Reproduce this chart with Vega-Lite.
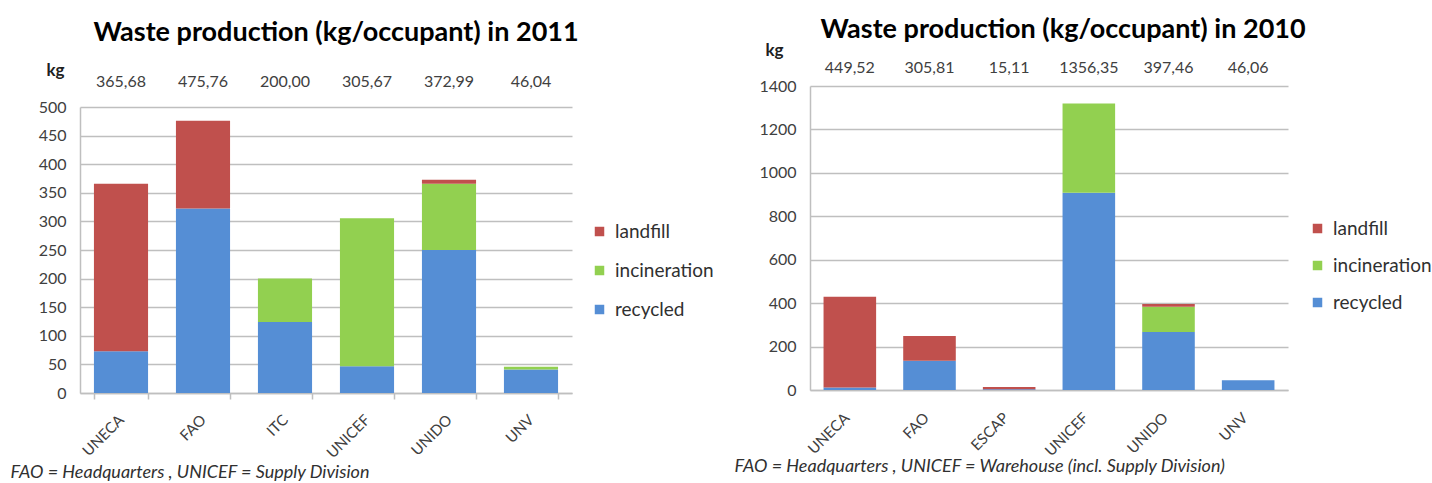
{
  "$schema": "https://vega.github.io/schema/vega-lite/v6.json",
  "padding": {"left": 10, "top": 16, "right": 5, "bottom": 5},
  "spacing": 20,
  "config": {
    "font": "Lato",
    "view": {"stroke": null},
    "axis": {"labelColor": "#404040", "labelFontSize": 16, "titleColor": "#202020"},
    "legend": {"labelColor": "#303030"}
  },
  "resolve": {"legend": {"color": "independent"}, "scale": {"color": "shared"}},
  "datasets": {
    "w2011": [
      {"office": "UNECA", "type": "recycled", "kg": 73},
      {"office": "UNECA", "type": "landfill", "kg": 292.7},
      {"office": "FAO", "type": "recycled", "kg": 322.6},
      {"office": "FAO", "type": "landfill", "kg": 153.2},
      {"office": "ITC", "type": "recycled", "kg": 124.3},
      {"office": "ITC", "type": "incineration", "kg": 75.7},
      {"office": "UNICEF", "type": "recycled", "kg": 46.7},
      {"office": "UNICEF", "type": "incineration", "kg": 259},
      {"office": "UNIDO", "type": "recycled", "kg": 250},
      {"office": "UNIDO", "type": "incineration", "kg": 115.8},
      {"office": "UNIDO", "type": "landfill", "kg": 7.2},
      {"office": "UNV", "type": "recycled", "kg": 41},
      {"office": "UNV", "type": "incineration", "kg": 5}
    ],
    "t2011": [
      {"office": "UNECA", "label": "365,68"},
      {"office": "FAO", "label": "475,76"},
      {"office": "ITC", "label": "200,00"},
      {"office": "UNICEF", "label": "305,67"},
      {"office": "UNIDO", "label": "372,99"},
      {"office": "UNV", "label": "46,04"}
    ],
    "w2010": [
      {"office": "UNECA", "type": "recycled", "kg": 11},
      {"office": "UNECA", "type": "landfill", "kg": 418.5},
      {"office": "FAO", "type": "recycled", "kg": 135},
      {"office": "FAO", "type": "landfill", "kg": 113.5},
      {"office": "ESCAP", "type": "recycled", "kg": 4},
      {"office": "ESCAP", "type": "landfill", "kg": 10},
      {"office": "UNICEF", "type": "recycled", "kg": 908},
      {"office": "UNICEF", "type": "incineration", "kg": 411},
      {"office": "UNIDO", "type": "recycled", "kg": 267},
      {"office": "UNIDO", "type": "incineration", "kg": 116},
      {"office": "UNIDO", "type": "landfill", "kg": 13},
      {"office": "UNV", "type": "recycled", "kg": 45}
    ],
    "t2010": [
      {"office": "UNECA", "label": "449,52"},
      {"office": "FAO", "label": "305,81"},
      {"office": "ESCAP", "label": "15,11"},
      {"office": "UNICEF", "label": "1356,35"},
      {"office": "UNIDO", "label": "397,46"},
      {"office": "UNV", "label": "46,06"}
    ]
  },
  "hconcat": [
    {
      "width": 492,
      "height": 307,
      "title": {"text": "Waste production (kg/occupant) in 2011", "fontSize": 27, "fontWeight": "bold", "anchor": "middle", "offset": 14, "dx": 10, "color": "#000000"},
      "layer": [
        {
          "data": {"name": "w2011"},
          "transform": [{"calculate": "indexof(['recycled','incineration','landfill'], datum.type)", "as": "stackorder"}],
          "mark": {"type": "bar"},
          "encoding": {
            "x": {
              "field": "office", "type": "nominal",
              "sort": ["UNECA", "FAO", "ITC", "UNICEF", "UNIDO", "UNV"],
              "scale": {"paddingInner": 0.34, "paddingOuter": 0.17},
              "axis": {
                "labelAngle": -45, "labelAlign": "right", "labelBaseline": "top", "labelPadding": 13, "labelOffset": -5, "labelFontSize": 15,
                "domainColor": "#bfbfbf", "domainWidth": 1.5, "ticks": true, "tickBand": "extent", "tickSize": 6, "tickColor": "#bfbfbf", "tickWidth": 1.5,
                "title": "FAO = Headquarters , UNICEF = Supply Division",
                "titleFontStyle": "italic", "titleFontWeight": "normal", "titleFontSize": 18, "titleColor": "#303030",
                "titleAnchor": "start", "titleAlign": "left", "titleBaseline": "middle", "titleX": -70, "titleY": 79
              }
            },
            "y": {
              "field": "kg", "type": "quantitative", "stack": "zero",
              "scale": {"domain": [0, 500], "nice": false, "rangeMax": 21},
              "axis": {
                "values": [0, 50, 100, 150, 200, 250, 300, 350, 400, 450, 500], "format": "d", "labelOverlap": false,
                "grid": true, "gridColor": "#bfbfbf", "gridWidth": 1.5,
                "domain": true, "domainColor": "#bfbfbf", "domainWidth": 1.5, "ticks": false, "labelPadding": 14,
                "title": "kg", "titleAngle": 0, "titleFontWeight": "bold", "titleFontSize": 17,
                "titleAlign": "center", "titleBaseline": "middle", "titleX": -25, "titleY": -16
              }
            },
            "color": {
              "field": "type", "type": "nominal",
              "scale": {"domain": ["landfill", "incineration", "recycled"], "range": ["#c0504d", "#92d050", "#558ed5"]},
              "legend": {"title": null, "orient": "none", "legendX": 510, "legendY": 136, "direction": "vertical",
                "symbolType": "square", "symbolSize": 90, "symbolStrokeWidth": 0, "labelFontSize": 19, "rowPadding": 19, "labelOffset": 6}
            },
            "order": {"field": "stackorder", "type": "quantitative", "sort": "ascending"}
          }
        },
        {
          "data": {"name": "t2011"},
          "mark": {"type": "text", "fontSize": 16, "color": "#404040", "baseline": "middle"},
          "encoding": {
            "x": {"field": "office", "type": "nominal", "sort": ["UNECA", "FAO", "ITC", "UNICEF", "UNIDO", "UNV"]},
            "y": {
              "datum": 544, "type": "quantitative",
              "axis": {
                "values": [0, 50, 100, 150, 200, 250, 300, 350, 400, 450, 500], "format": "d", "labelOverlap": false,
                "grid": true, "gridColor": "#bfbfbf", "gridWidth": 1.5,
                "domain": true, "domainColor": "#bfbfbf", "domainWidth": 1.5, "ticks": false, "labelPadding": 14,
                "title": "kg", "titleAngle": 0, "titleFontWeight": "bold", "titleFontSize": 17,
                "titleAlign": "center", "titleBaseline": "middle", "titleX": -25, "titleY": -16
              }
            },
            "text": {"field": "label"}
          }
        }
      ]
    },
    {
      "width": 478,
      "height": 304,
      "title": {"text": "Waste production (kg/occupant) in 2010", "fontSize": 27, "fontWeight": "bold", "anchor": "middle", "offset": -3, "dx": 14, "color": "#000000"},
      "layer": [
        {
          "data": {"name": "w2010"},
          "transform": [{"calculate": "indexof(['recycled','incineration','landfill'], datum.type)", "as": "stackorder"}],
          "mark": {"type": "bar"},
          "encoding": {
            "x": {
              "field": "office", "type": "nominal",
              "sort": ["UNECA", "FAO", "ESCAP", "UNICEF", "UNIDO", "UNV"],
              "scale": {"paddingInner": 0.34, "paddingOuter": 0.17},
              "axis": {
                "labelAngle": -45, "labelAlign": "right", "labelBaseline": "top", "labelPadding": 20, "labelOffset": -8, "labelFontSize": 15,
                "domainColor": "#bfbfbf", "domainWidth": 1.5, "ticks": false,
                "title": "FAO = Headquarters , UNICEF = Warehouse (incl. Supply Division)",
                "titleFontStyle": "italic", "titleFontWeight": "normal", "titleFontSize": 18, "titleColor": "#303030",
                "titleAnchor": "start", "titleAlign": "left", "titleBaseline": "middle", "titleX": -76, "titleY": 76
              }
            },
            "y": {
              "field": "kg", "type": "quantitative", "stack": "zero",
              "scale": {"domain": [0, 1400], "nice": false},
              "axis": {
                "values": [0, 200, 400, 600, 800, 1000, 1200, 1400], "format": "d", "labelOverlap": false,
                "grid": true, "gridColor": "#bfbfbf", "gridWidth": 1.5,
                "domain": true, "domainColor": "#bfbfbf", "domainWidth": 1.5, "ticks": false, "labelPadding": 14,
                "title": "kg", "titleAngle": 0, "titleFontWeight": "bold", "titleFontSize": 17,
                "titleAlign": "center", "titleBaseline": "middle", "titleX": -36, "titleY": -36
              }
            },
            "color": {
              "field": "type", "type": "nominal",
              "scale": {"domain": ["landfill", "incineration", "recycled"], "range": ["#c0504d", "#92d050", "#558ed5"]},
              "legend": {"title": null, "orient": "none", "legendX": 498, "legendY": 133, "direction": "vertical",
                "symbolType": "square", "symbolSize": 90, "symbolStrokeWidth": 0, "labelFontSize": 19, "rowPadding": 17, "labelOffset": 6}
            },
            "order": {"field": "stackorder", "type": "quantitative", "sort": "ascending"}
          }
        },
        {
          "data": {"name": "t2010"},
          "mark": {"type": "text", "fontSize": 16, "color": "#404040", "baseline": "middle"},
          "encoding": {
            "x": {"field": "office", "type": "nominal", "sort": ["UNECA", "FAO", "ESCAP", "UNICEF", "UNIDO", "UNV"]},
            "y": {
              "datum": 1483, "type": "quantitative",
              "axis": {
                "values": [0, 200, 400, 600, 800, 1000, 1200, 1400], "format": "d", "labelOverlap": false,
                "grid": true, "gridColor": "#bfbfbf", "gridWidth": 1.5,
                "domain": true, "domainColor": "#bfbfbf", "domainWidth": 1.5, "ticks": false, "labelPadding": 14,
                "title": "kg", "titleAngle": 0, "titleFontWeight": "bold", "titleFontSize": 17,
                "titleAlign": "center", "titleBaseline": "middle", "titleX": -36, "titleY": -36
              }
            },
            "text": {"field": "label"}
          }
        }
      ]
    }
  ]
}
